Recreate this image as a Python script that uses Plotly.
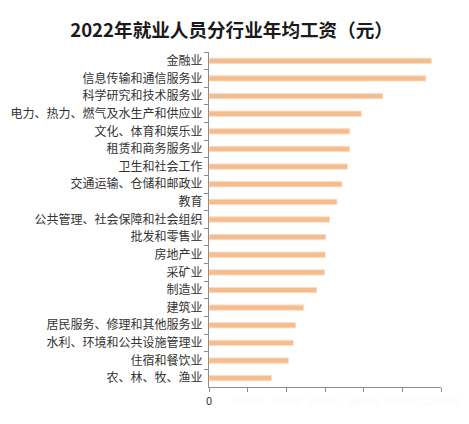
import plotly.graph_objects as go

# ============================================================================
# DONNÉES (en yuans)
# ============================================================================
secteurs = [
    '金融业',
    '信息传输和通信服务业',
    '科学研究和技术服务业',
    '电力、热力、燃气及水生产和供应业',
    '文化、体育和娱乐业',
    '租赁和商务服务业',
    '卫生和社会工作',
    '交通运输、仓储和邮政业',
    '教育',
    '公共管理、社会保障和社会组织',
    '批发和零售业',
    '房地产业',
    '采矿业',
    '制造业',
    '建筑业',
    '居民服务、修理和其他服务业',
    '水利、环境和公共设施管理业',
    '住宿和餐饮业',
    '农、林、牧、渔业',
]
salaire_moyen = [
    115000, 112100, 89800, 78800, 72800, 72700, 71600, 68800, 66200, 62400,
    60400, 60200, 59800, 55700, 49000, 44800, 43600, 41100, 32300,
]

x_ticks = [0, 20000, 40000, 60000, 80000, 100000, 120000]
# seul le "0" est lisible, les autres libellés sont quasi invisibles
x_ticktext = ['0'] + [f'<span style="color:#fafafa">{v}</span>' for v in x_ticks[1:]]

fig = go.Figure()

fig.add_trace(go.Bar(
    x=salaire_moyen,
    y=secteurs,
    orientation='h',
    width=0.3,
    marker=dict(color='#F5BD8E', line=dict(color='#FBDDC4', width=1)),
    showlegend=False,
))

# la page html ajoute ~8px de marge autour de la figure
fig.update_layout(
    title={
        'text': '<b>2022年就业人员分行业年均工资（元）</b>',
        'x': 0.485,
        'xanchor': 'center',
        'y': 0.947,
        'yanchor': 'middle',
        'font': dict(size=18.6, color='#1a1a1a'),
    },
    width=461,
    height=416,
    margin=dict(l=201, r=28, t=44, b=37),
    paper_bgcolor='white',
    plot_bgcolor='white',
    font=dict(family='Noto Sans CJK SC', size=12, color='#333333'),
    bargap=0.7,
)

fig.update_xaxes(
    range=[0, 120000],
    tickvals=x_ticks,
    ticktext=x_ticktext,
    automargin=False,
    showgrid=False,
    zeroline=False,
    showline=True,
    linecolor='#8c8c8c',
    linewidth=1,
    ticks='outside',
    ticklen=4,
    tickcolor='#8c8c8c',
    tickfont=dict(size=11, color='#333333'),
)

fig.update_yaxes(
    autorange='reversed',
    automargin=False,
    showgrid=False,
    showline=True,
    linecolor='#8c8c8c',
    linewidth=1,
    ticks='outside',
    tickson='boundaries',
    ticklen=4,
    tickcolor='#8c8c8c',
    ticklabelstandoff=3,
    tickfont=dict(size=12, color='#333333'),
)

fig.write_html("out.html")
